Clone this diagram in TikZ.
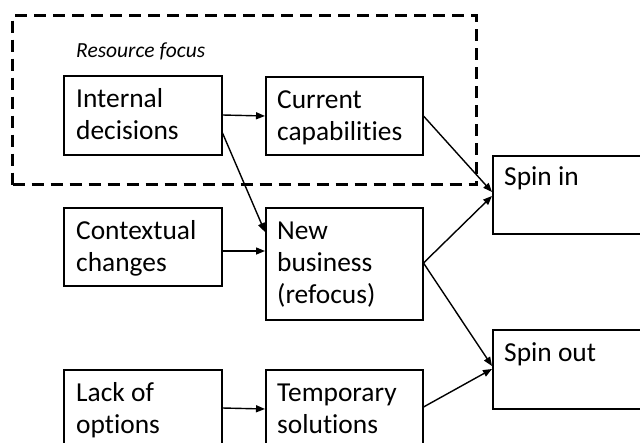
\documentclass[tikz,border=0pt]{standalone}
\usepackage{fontspec}
\setmainfont[Ligatures=NoCommon]{Carlito}
\usetikzlibrary{arrows.meta}
\begin{document}
\begin{tikzpicture}[x=1pt,y=-1pt,
  box/.style={draw,line width=1.5pt,inner sep=0pt,anchor=north west},
  % anchor at the baseline of the last line of each label
  lbl/.style={anchor=base west,inner sep=0pt,align=left,font=\fontsize{27.4}{32}\selectfont},
  conn/.style={line width=1.4pt,-{Triangle[length=9pt,width=7pt]}},
  group/.style={draw,line width=3pt,dash pattern=on 12pt off 7pt}]
\useasboundingbox (0,0) rectangle (640,442);
% resource focus frame
\node[group,inner sep=0pt,anchor=north west,minimum width=464pt,minimum height=169pt] (focus) at (11,14) {};
\node[anchor=base west,inner sep=0pt,font=\fontsize{21.5}{26}\selectfont\itshape] (focuslbl) at (76,57) {Resource focus};
% boxes
\node[box,minimum width=158pt,minimum height=79pt] (internal) at (63,75) {};
\node[box,minimum width=157pt,minimum height=78pt] (current) at (265,76) {};
\node[box,minimum width=160pt,minimum height=78pt] (spinin) at (492,155) {};
\node[box,minimum width=158pt,minimum height=78pt] (context) at (63,207) {};
\node[box,minimum width=157pt,minimum height=112pt] (newbiz) at (265,207) {};
\node[box,minimum width=160pt,minimum height=79pt] (spinout) at (492,329) {};
\node[box,minimum width=158pt,minimum height=90pt] (lack) at (63,369) {};
\node[box,minimum width=157pt,minimum height=90pt] (temp) at (265,369) {};
% labels
\node[lbl] (internalt) at (76,139) {Internal\\decisions};
\node[lbl] (currentt) at (277,140) {Current\\capabilities};
\node[lbl] (spinint) at (504,185) {Spin in};
\node[lbl] (contextt) at (76,271) {Contextual\\changes};
\node[lbl] (newbizt) at (277,303) {New\\business\\(refocus)};
\node[lbl] (spinoutt) at (504,361) {Spin out};
\node[lbl] (lackt) at (76,433) {Lack of\\options};
\node[lbl] (tempt) at (277,433) {Temporary\\solutions};
% connectors
\draw[conn] (internal.east |- 0,115) -- (current.west |- 0,116);
\draw[conn] (internal.east |- 0,133) -- (newbiz.west |- 0,232);
\draw[conn] (context.east |- 0,251) -- (newbiz.west |- 0,251);
\draw[conn] (current.east |- 0,116) -- (spinin.west |- 0,192);
\draw[conn] (newbiz.east |- 0,263) -- (spinin.west |- 0,196);
\draw[conn] (newbiz.east |- 0,263) -- (spinout.west |- 0,366);
\draw[conn] (temp.east |- 0,407) -- (spinout.west |- 0,369);
\draw[conn] (lack.east |- 0,408) -- (temp.west |- 0,409);
\end{tikzpicture}
\end{document}
